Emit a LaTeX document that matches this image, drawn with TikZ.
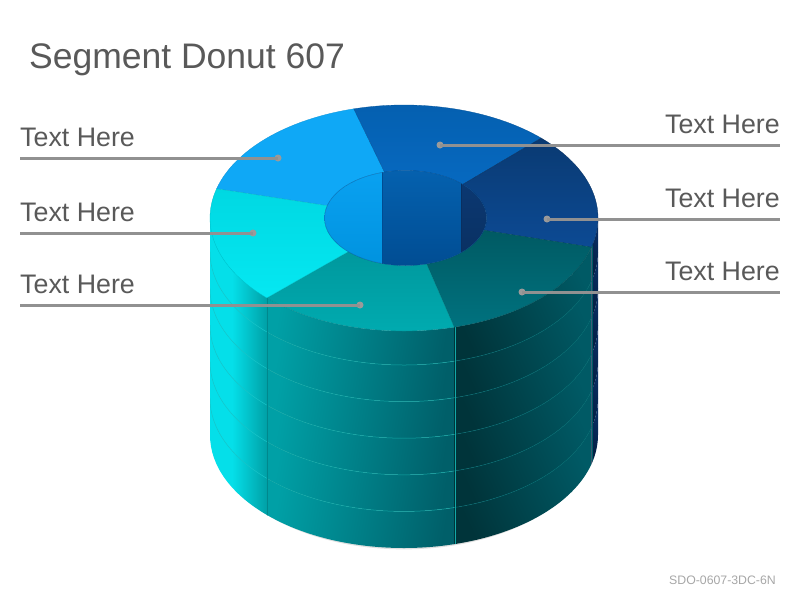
\documentclass[tikz,border=0pt]{standalone}
\usepackage{fontspec}
\setmainfont{Liberation Sans}
\usepackage{tikz}
\usetikzlibrary{positioning}

\definecolor{leadgray}{HTML}{919191}
\definecolor{dotgray}{HTML}{9A9A9A}
\definecolor{textgray}{HTML}{595959}
\definecolor{notegray}{HTML}{A6A6A6}
\definecolor{cyan1}{HTML}{05DFE9}
\definecolor{cyan2}{HTML}{05DFE9}
\definecolor{cyan3}{HTML}{00D8E2}
\definecolor{cyan4}{HTML}{05E8F2}
\definecolor{teal1}{HTML}{00A0A6}
\definecolor{teal2}{HTML}{005F69}
\definecolor{teal3}{HTML}{00343A}
\definecolor{teal4}{HTML}{005A65}
\definecolor{teal5}{HTML}{005A63}
\definecolor{teal6}{HTML}{00727F}
\definecolor{teal7}{HTML}{00989D}
\definecolor{teal8}{HTML}{00ACB1}
\definecolor{blue1}{HTML}{0FA8F6}
\definecolor{blue2}{HTML}{055FAF}
\definecolor{blue3}{HTML}{0669C0}
\definecolor{blue4}{HTML}{0AA2F2}
\definecolor{blue5}{HTML}{0092DE}
\definecolor{blue6}{HTML}{0562B0}
\definecolor{blue7}{HTML}{004C92}
\definecolor{navy1}{HTML}{021E40}
\definecolor{navy2}{HTML}{0A3068}
\definecolor{navy3}{HTML}{0A3A72}
\definecolor{navy4}{HTML}{0C4A94}
\definecolor{navy5}{HTML}{0C3A75}
\definecolor{navy6}{HTML}{092F60}
\definecolor{cyanline}{HTML}{18C4C8}
\definecolor{tealline}{HTML}{12A8A6}
\definecolor{darkline}{HTML}{00686E}

\newcommand{\ringseg}[4]{%
  \shade[top color=#3, bottom color=#4, draw=#3!88!black, line width=0.3pt]
    ([shift={(#1:194pt and 113pt)}]top) arc[start angle=#1, end angle=#2, x radius=194pt, y radius=113pt]
    -- ([shift={(#2:81pt and 47.5pt)}]hole) arc[start angle=#2, end angle=#1, x radius=81pt, y radius=47.5pt]
    -- cycle;}
% one layer of the wall: start angle, end angle, upper drop, lower drop, colours, shading angle
\newcommand{\bandseg}[7]{%
  \shade[left color=#5, right color=#6, shading angle=#7]
    ([shift={(#1:194pt and 113pt)}, yshift=-#3pt]top) arc[start angle=#1, end angle=#2, x radius=194pt, y radius=113pt]
    -- ([shift={(#2:194pt and 113pt)}, yshift=-#4pt]top) arc[start angle=#2, end angle=#1, x radius=194pt, y radius=113pt]
    -- cycle;}

\begin{document}
\begin{tikzpicture}[x=1pt, y=-1pt,
    left text/.style={anchor=base west, inner sep=0pt, text=textgray, font=\fontsize{26.8}{27}\selectfont},
    right text/.style={anchor=base east, inner sep=0pt, text=textgray, font=\fontsize{26.8}{27}\selectfont},
    dot node/.style={circle, fill=dotgray, inner sep=0pt, minimum size=7pt},
    lead line/.style={draw=leadgray, line width=3pt},
    layer line/.style={line width=0.5pt}]
\useasboundingbox (0,0) rectangle (800,600);

\coordinate (top) at (404,218);
\coordinate (hole) at (405.5,218);

% shadow under the drum
\draw[black!12, line width=1.5pt] (217,440) arc[start angle=180, end angle=360, x radius=187pt, y radius=108.6pt];

% drum wall
\begin{scope}
\clip (210,218) -- (210,435) arc[start angle=180, end angle=360, x radius=194pt, y radius=113pt] -- (598,218) -- cycle;
\fill[cyan1] (210,200) rectangle (232,600);
\shade[left color=cyan2, right color=teal1] (232,200) rectangle (267,600);
\foreach \u/\v in {0/34, 34/70.6, 70.6/107.2, 107.2/143.8, 143.8/180.4, 180.4/217}{
  \bandseg{-135}{-75}{\u}{\v}{teal1}{teal2}{80}
  \bandseg{-75}{-15}{\u}{\v}{teal3}{teal4}{115}
  \bandseg{-15}{0}{\u}{\v}{navy1}{navy2}{115}
}

% layer edges
\foreach \v in {34, 70.6, 107.2, 143.8, 180.4}{
  \draw[layer line, draw=cyanline] ([shift={(180:194pt and 113pt)}, yshift=-\v pt]top) arc[start angle=180, end angle=225, x radius=194pt, y radius=113pt];
  \draw[layer line, draw=tealline] ([shift={(225:194pt and 113pt)}, yshift=-\v pt]top) arc[start angle=225, end angle=285, x radius=194pt, y radius=113pt];
  \draw[layer line, draw=darkline] ([shift={(285:194pt and 113pt)}, yshift=-\v pt]top) arc[start angle=285, end angle=345, x radius=194pt, y radius=113pt];
}
\draw[layer line, draw=teal1!85!black] (267,290) -- (267,600);
\draw[layer line, draw=tealline] (455.5,320) -- (455.5,600);
\draw[layer line, draw=teal4] (592,240) -- (592,600);
\end{scope}

% top of the ring
\ringseg{165}{105}{blue1}{blue1}
\ringseg{105}{45}{blue2}{blue3}
\ringseg{45}{-15}{navy3}{navy4}
\ringseg{-15}{-75}{teal5}{teal6}
\ringseg{-75}{-135}{teal7}{teal8}
\ringseg{-135}{-195}{cyan3}{cyan4}

% inside of the hole
\begin{scope}
\clip (hole) ellipse[x radius=81pt, y radius=47.5pt];
\shade[top color=blue4, bottom color=blue5] (320,165) rectangle (382,270);
\shade[top color=blue6, bottom color=blue7] (382,165) rectangle (461.5,270);
\shade[top color=navy5, bottom color=navy6] (461.5,165) rectangle (490,270);
\draw[layer line, draw=blue7] (382,165) -- (382,270);
\draw[layer line, draw=navy6] (461.5,165) -- (461.5,270);
\end{scope}
\draw[layer line, draw=blue7, opacity=0.5] (hole) ellipse[x radius=81pt, y radius=47.5pt];

% title and footer
\node[anchor=base west, inner sep=0pt, text=textgray, font=\fontsize{35.5}{36}\selectfont] (title) at (29,68) {Segment Donut 607};
\node[anchor=base east, inner sep=0pt, text=notegray, font=\fontsize{12.3}{13}\selectfont] (code) at (776,584) {SDO-0607-3DC-6N};

% left labels
\node[left text] (t1) at (20,146.5) {Text Here};
\node[left text] (t2) at (20,221.5) {Text Here};
\node[left text] (t3) at (20,293.5) {Text Here};
\node[dot node] (d1) at (278,158) {};
\node[dot node] (d2) at (253,233) {};
\node[dot node] (d3) at (360,305) {};
\coordinate (e1) at (20,158);
\coordinate (e2) at (20,233);
\coordinate (e3) at (20,305);

% right labels
\node[right text] (t4) at (780,133.5) {Text Here};
\node[right text] (t5) at (780,207.5) {Text Here};
\node[right text] (t6) at (780,280.5) {Text Here};
\node[dot node] (d4) at (440,145) {};
\node[dot node] (d5) at (547,219) {};
\node[dot node] (d6) at (522,292) {};
\coordinate (e4) at (780,145);
\coordinate (e5) at (780,219);
\coordinate (e6) at (780,292);

\foreach \n in {1,...,6}
  \draw[lead line] (d\n.center) -- (e\n);
\end{tikzpicture}
\end{document}
